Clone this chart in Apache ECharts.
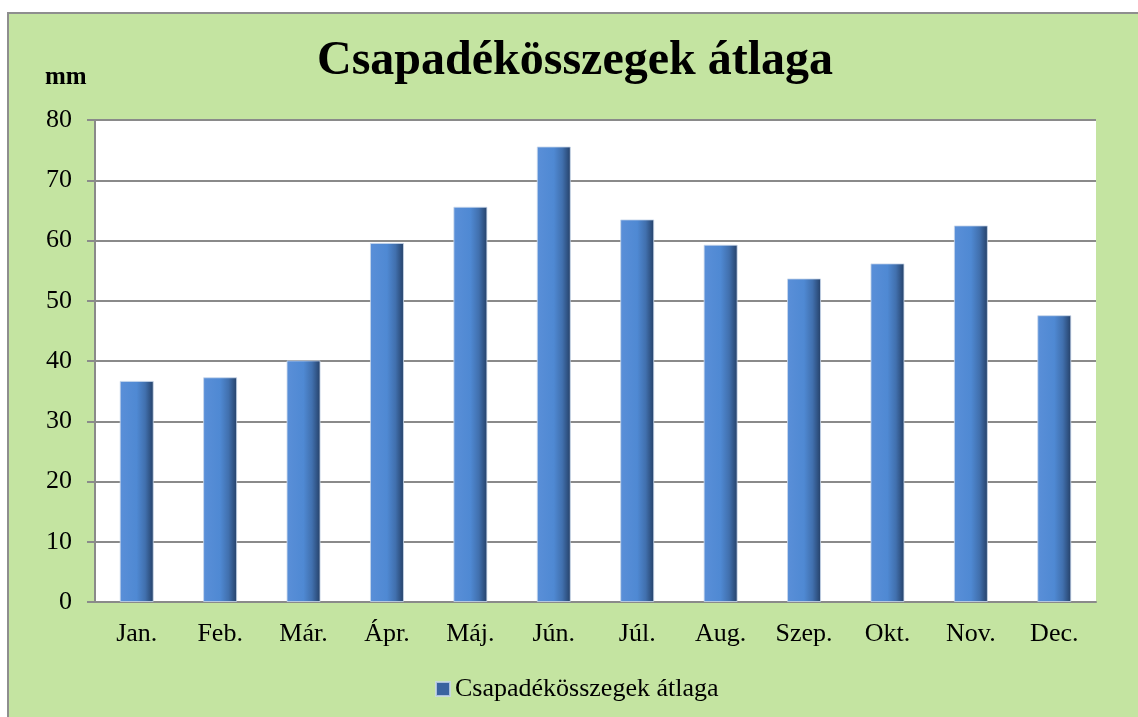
<!DOCTYPE html>
<html><head><meta charset="utf-8">
<script src="https://cdn.jsdelivr.net/npm/echarts@6/dist/echarts.min.js"></script>
<style>
html,body{margin:0;padding:0;background:#fff;overflow:hidden;}
#frame{position:absolute;left:7px;top:12px;width:1140px;height:720px;background:#C4E4A1;border:2px solid #8e8e8e;box-sizing:border-box;}
#main{position:absolute;left:0;top:0;width:1138px;height:717px;}
</style></head>
<body>
<div id="frame"></div>
<div id="main"></div>
<script>
const categories = ['Jan.', 'Feb.', 'Már.', 'Ápr.', 'Máj.', 'Jún.', 'Júl.', 'Aug.', 'Szep.', 'Okt.', 'Nov.', 'Dec.'];
const values = [36.7, 37.3, 40.1, 59.6, 65.6, 75.6, 63.5, 59.3, 53.7, 56.2, 62.5, 47.6];
const seriesName = 'Csapadékösszegek átlaga';
const titleText = 'Csapadékösszegek átlaga';
const unitLabel = 'mm';

const serif = '"Liberation Serif", "DejaVu Serif", serif';
const chart = echarts.init(document.getElementById('main'), null, {renderer: 'canvas'});
const barColor = new echarts.graphic.LinearGradient(0, 0, 1, 0, [
  {offset: 0, color: '#5A8FD8'},
  {offset: 0.5, color: '#4F89D3'},
  {offset: 0.75, color: '#4170AE'},
  {offset: 1, color: '#243F66'}
]);
chart.setOption({
  backgroundColor: 'transparent',
  animation: false,
  title: {
    text: titleText,
    left: 312,
    top: 33,
    textStyle: {fontFamily: serif, fontSize: 48, fontWeight: 'bold', color: '#000'}
  },
  graphic: [{
    type: 'text', left: 45, top: 65,
    style: {text: unitLabel, fontFamily: serif, fontSize: 25, fontWeight: 'bold', fill: '#000'}
  }],
  legend: {
    top: 671,
    left: 430,
    icon: 'rect',
    itemWidth: 14, itemHeight: 14, itemGap: 4,
    textStyle: {fontFamily: serif, fontSize: 26, color: '#000', padding: [0, 0, 0, 0]},
    data: [{name: seriesName, itemStyle: {color: '#3A63A0'}}]
  },
  grid: {left: 95, top: 120, right: 42, bottom: 115, show: true, backgroundColor: '#fff', borderWidth: 0},
  xAxis: {
    type: 'category',
    data: categories,
    axisLine: {lineStyle: {color: '#8a8a8a', width: 2}},
    axisTick: {show: false},
    axisLabel: {fontFamily: serif, fontSize: 26, color: '#000', margin: 19}
  },
  yAxis: {
    type: 'value',
    min: 0, max: 80, interval: 10,
    axisLine: {show: true, lineStyle: {color: '#8a8a8a', width: 2}},
    axisTick: {show: true, length: 8, lineStyle: {color: '#8a8a8a', width: 2}},
    axisLabel: {fontFamily: serif, fontSize: 26, color: '#000', margin: 23},
    splitLine: {lineStyle: {color: '#8a8a8a', width: 2}}
  },
  series: [{
    name: seriesName,
    type: 'bar',
    data: values,
    barWidth: 34,
    itemStyle: {color: barColor, borderColor: 'rgba(200,215,235,0.8)', borderWidth: 1}
  }]
});
</script>
</body></html>
